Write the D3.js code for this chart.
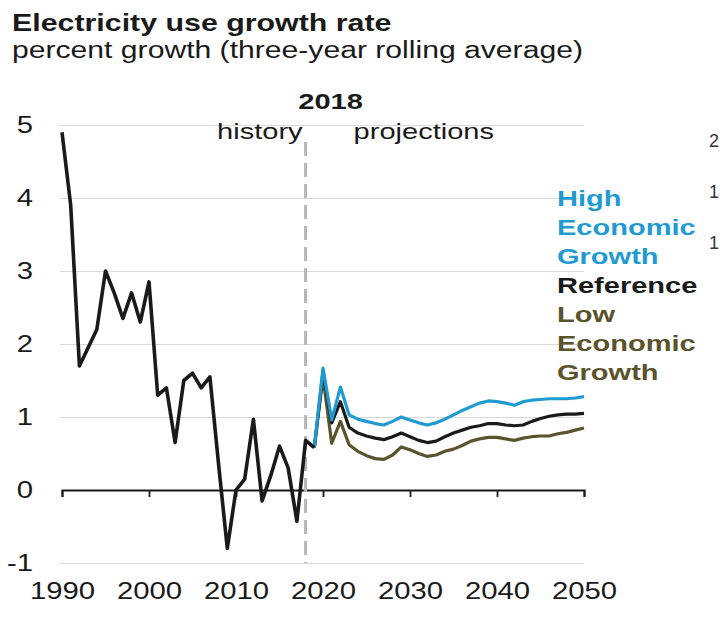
<!DOCTYPE html>
<html>
<head>
<meta charset="utf-8">
<script src="https://cdn.jsdelivr.net/npm/d3@7"></script>
<style>
    body { margin: 0; background: #fff; }
    text { font-family: "Liberation Sans", Arial, sans-serif; fill: #1a1a1a; }
</style>
</head>
<body>
<div id="chart"></div>
<script>
//history years and values
const hist_years = d3.range(1990, 2020);
const hist_values = [4.9, 3.9, 1.7, 1.95, 2.2, 3.0, 2.7, 2.35, 2.7, 2.3,
    2.85, 1.3, 1.4, 0.65, 1.5, 1.6, 1.4, 1.55, 0.35, -0.8,
    0.0, 0.15, 0.97, -0.15, 0.2, 0.6, 0.3, -0.43, 0.68, 0.58];
//projection years and cases
const proj_years = d3.range(2019, 2051);
const high_values = [0.58, 1.67, 0.96, 1.41, 1.03, 0.97, 0.94, 0.91, 0.89, 0.94,
    1.0, 0.96, 0.92, 0.89, 0.92, 0.97, 1.03, 1.09, 1.14, 1.19,
    1.22, 1.21, 1.19, 1.16, 1.21, 1.23, 1.24, 1.25, 1.25, 1.25, 1.26, 1.28];
const ref_values = [0.58, 1.62, 0.92, 1.21, 0.86, 0.78, 0.74, 0.71, 0.69, 0.73,
    0.78, 0.73, 0.68, 0.65, 0.67, 0.73, 0.78, 0.82, 0.86, 0.88,
    0.91, 0.91, 0.89, 0.88, 0.89, 0.94, 0.98, 1.01, 1.03, 1.04, 1.04, 1.05];
const low_values = [0.58, 1.55, 0.64, 0.94, 0.62, 0.53, 0.47, 0.43, 0.42, 0.48,
    0.59, 0.55, 0.50, 0.46, 0.48, 0.53, 0.56, 0.61, 0.67, 0.70,
    0.72, 0.72, 0.70, 0.68, 0.71, 0.73, 0.74, 0.74, 0.77, 0.79, 0.82, 0.85];
//ticks and labels
const x_ticks = [1990, 2000, 2010, 2020, 2030, 2040, 2050];
const y_ticks = [-1, 0, 1, 2, 3, 4, 5];
const split_year = 2018;
const legend_lines = [
    { text: "High", color: "#1f9bd2" },
    { text: "Economic", color: "#1f9bd2" },
    { text: "Growth", color: "#1f9bd2" },
    { text: "Reference", color: "#1a1a1a" },
    { text: "Low", color: "#5b532c" },
    { text: "Economic", color: "#5b532c" },
    { text: "Growth", color: "#5b532c" }
];
//fragments of the neighbouring chart's axis at the right edge
const edge_labels = ["2", "1", "1"];

//set sizes
const complete_width = 720,
    complete_height = 625,
    margin = { top: 125, right: 136, bottom: 62, left: 62 },
    width = complete_width - margin.left - margin.right,
    height = complete_height - margin.top - margin.bottom;
//the reference text is stretched horizontally
const SX = 1.32,
    TICK_SX = 1.22,
    TICK_SIZE = 24;

const svg = d3.select("#chart")
    .append("svg")
    .attr("width", complete_width)
    .attr("height", complete_height);

//stretched text helper
function label(x, y, str, opts) {
    const g = svg.append("g")
        .attr("transform", `translate(${x},${y}) scale(${opts.sx || SX},1)`);
    return g.append("text")
        .attr("text-anchor", opts.anchor || "start")
        .style("font-size", (opts.size || 22) + "px")
        .style("font-weight", opts.bold ? "bold" : "normal")
        .style("fill", opts.color || "#1a1a1a")
        .text(str);
}

//titles
label(12, 31, "Electricity use growth rate", { size: 23, bold: true });
label(12, 58, "percent growth (three-year rolling average)", { size: 23, sx: 1.31 });

const plot = svg.append("g")
    .attr("transform", `translate(${margin.left},${margin.top})`);

//scales
const x = d3.scaleLinear()
    .domain([1990, 2050])
    .range([0, width]);
const y = d3.scaleLinear()
    .domain([-1, 5])
    .range([height, 0]);

//y grid and labels
const y_axis = d3.axisLeft(y)
    .tickValues(y_ticks)
    .tickSize(-width - 2)
    .tickPadding(27)
    .tickFormat(d => String(d));
plot.append("g")
    .attr("class", "y_axis")
    .attr("transform", "translate(-2,0)")
    .call(y_axis)
    .call(g => g.select(".domain").remove())
    .call(g => g.selectAll(".tick line")
        .attr("stroke", d => d === 0 ? "none" : "#d9d9d9")
        .attr("stroke-width", 1.2))
    .call(g => g.selectAll(".tick text")
        .attr("x", -27 / TICK_SX)
        .attr("transform", `scale(${TICK_SX},1)`)
        .style("font-size", TICK_SIZE + "px")
        .style("font-family", "Liberation Sans, Arial, sans-serif")
        .style("fill", "#1a1a1a"));

//zero line with decade ticks
const zero_axis = d3.axisBottom(x)
    .tickValues(x_ticks)
    .tickSize(7)
    .tickFormat("");
plot.append("g")
    .attr("transform", `translate(0,${y(0)})`)
    .call(zero_axis)
    .call(g => g.select(".domain")
        .attr("stroke", "#1a1a1a")
        .attr("stroke-width", 2))
    .call(g => g.selectAll(".tick line")
        .attr("stroke", "#1a1a1a")
        .attr("stroke-width", 1.8));

//year labels under the chart
const x_axis = d3.axisBottom(x)
    .tickValues(x_ticks)
    .tickSize(0)
    .tickPadding(19)
    .tickFormat(d3.format("d"));
plot.append("g")
    .attr("transform", `translate(0,${height})`)
    .call(x_axis)
    .call(g => g.select(".domain").remove())
    .call(g => g.selectAll(".tick text")
        .attr("transform", `scale(${TICK_SX},1)`)
        .style("font-size", TICK_SIZE + "px")
        .style("font-family", "Liberation Sans, Arial, sans-serif")
        .style("fill", "#1a1a1a"));

//history / projections divider
plot.append("line")
    .attr("x1", x(split_year))
    .attr("x2", x(split_year))
    .attr("y1", 17)
    .attr("y2", height)
    .attr("stroke", "#b5b5b5")
    .attr("stroke-width", 3)
    .attr("stroke-dasharray", "14,7");

label(margin.left + x(split_year) + 25, 109, "2018", { size: 22, bold: true, anchor: "middle" });
label(margin.left + x(split_year) - 3, 139, "history", { size: 22, anchor: "end" });
label(margin.left + x(split_year) + 48, 139, "projections", { size: 22 });

//lines
const line = d3.line()
    .x(d => x(d[0]))
    .y(d => y(d[1]));

const series = [
    { values: low_values, color: "#5b532c" },
    { values: ref_values, color: "#1a1a1a" },
    { values: high_values, color: "#1f9bd2" }
];
plot.selectAll(".proj")
    .data(series)
    .join("path")
    .attr("class", "proj")
    .attr("fill", "none")
    .attr("stroke", d => d.color)
    .attr("stroke-width", 3.2)
    .attr("stroke-linejoin", "round")
    .attr("d", d => line(proj_years.map((yr, i) => [yr, d.values[i]])));

plot.append("path")
    .attr("fill", "none")
    .attr("stroke", "#1a1a1a")
    .attr("stroke-width", 3.6)
    .attr("stroke-linejoin", "round")
    .attr("d", line(hist_years.map((yr, i) => [yr, hist_values[i]])));

//legend
legend_lines.forEach((d, i) => {
    label(557, 206 + i * 29, d.text, { size: 22, bold: true, color: d.color });
});

//edge fragments, kept inside the picture
edge_labels.forEach((d, i) => {
    label(709, 147 + i * 51, d, { size: 18, sx: 1, color: "#333" });
});
</script>
</body>
</html>
